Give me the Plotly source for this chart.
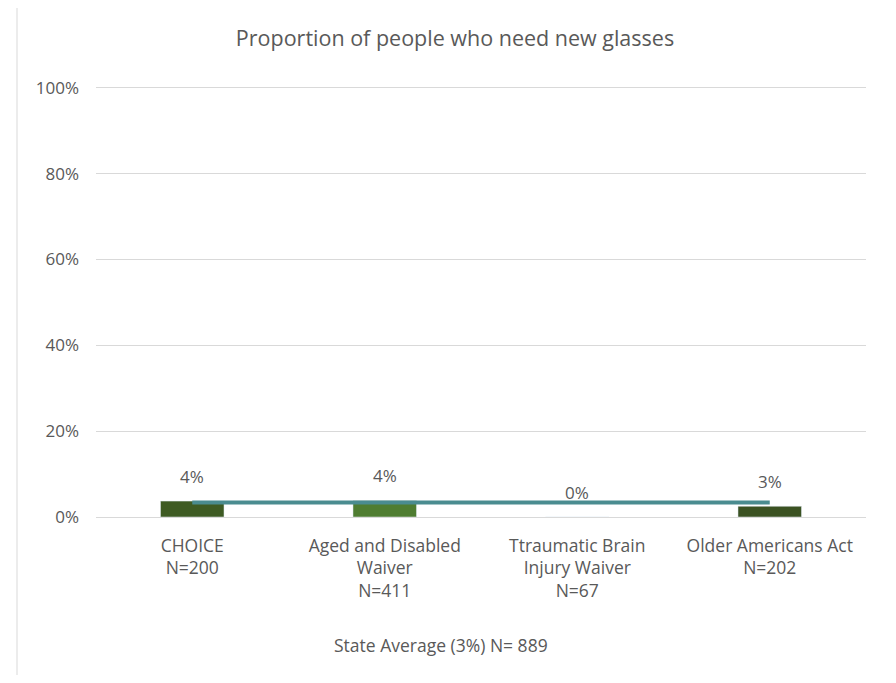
import plotly.graph_objects as go

categories = ["CHOICE<br>N=200", "Aged and Disabled<br>Waiver<br>N=411",
              "Ttraumatic Brain<br>Injury Waiver<br>N=67", "Older Americans Act<br>N=202"]
program_values = [0.037, 0.038, 0.0, 0.025]
program_labels = ["4%", "4%", "0%", "3%"]
bar_colors = ["#3E5B23", "#4F7D31", "#4F7D31", "#3B5222"]
state_average = [0.034, 0.034, 0.034, 0.034]
state_average_name = "State Average (3%) N= 889"
title_text = "Proportion of people who need new glasses"
y_ticks = [0, 0.2, 0.4, 0.6, 0.8, 1.0]

# page body has an 8px margin; work in figure pixel coords (reference minus 8)
OFF = 8
W, H = 888, 667
PX_L, PX_R = 96 - OFF, 866 - OFF      # plot area x-extent
PX_Y100, PX_Y0 = 88 - OFF, 517 - OFF  # pixel rows of 100% and 0%
YMAX = 1.03
per_unit = PX_Y0 - PX_Y100
T = PX_Y100 - (YMAX - 1.0) * per_unit
L, R, B = PX_L, W - PX_R, H - PX_Y0
pw = PX_R - PX_L
ph = PX_Y0 - T

def px_x(x):
    return (x - OFF - PX_L) / pw

def px_y(y):
    return (PX_Y0 - (y - OFF)) / ph

FONT = "Open Sans"
GREY = "#595959"

fig = go.Figure()
fig.add_trace(go.Bar(x=categories, y=program_values, marker_color=bar_colors,
                     width=0.33, showlegend=False, hoverinfo="skip"))
fig.add_trace(go.Scatter(x=categories, y=state_average, mode="lines",
                         line=dict(color="#4A8C90", width=4),
                         name=state_average_name, showlegend=False))

for c, v, t in zip(categories, program_values, program_labels):
    fig.add_annotation(x=c, y=v, text=t, showarrow=False, yshift=25,
                       yanchor="middle", font=dict(size=17, color=GREY, family=FONT))

fig.add_annotation(xref="paper", yref="paper", x=px_x(441), y=px_y(645),
                   text=state_average_name, showarrow=False, xanchor="center", yanchor="middle",
                   font=dict(size=17.5, color=GREY, family=FONT))

fig.add_shape(type="rect", xref="paper", yref="paper",
              x0=px_x(17), x1=px_x(890), y0=px_y(720), y1=px_y(4),
              line=dict(color="#D9D9D9", width=1), fillcolor="rgba(0,0,0,0)", layer="below")

fig.update_layout(
    width=W, height=H,
    margin=dict(l=L, r=R, t=T, b=B, pad=0),
    paper_bgcolor="white", plot_bgcolor="white",
    font=dict(family=FONT, color=GREY),
    title=dict(text=title_text, xref="container", yref="container",
               x=(455 - OFF) / W, y=1 - (38 - OFF) / H, xanchor="center", yanchor="middle",
               font=dict(size=21.5, color=GREY, family=FONT)),
    xaxis=dict(showgrid=False, showline=False, zeroline=False, ticks="",
               ticklabelstandoff=16,
               tickfont=dict(size=17.5, color=GREY, family=FONT)),
    yaxis=dict(range=[0, YMAX], tickvals=y_ticks, tickformat=".0%",
               showgrid=True, gridcolor="#D9D9D9", gridwidth=1,
               zeroline=True, zerolinecolor="#D9D9D9", zerolinewidth=1,
               showline=False, ticks="", ticklabelstandoff=16,
               tickfont=dict(size=17, color=GREY, family=FONT)),
)

fig.write_html("out.html")
